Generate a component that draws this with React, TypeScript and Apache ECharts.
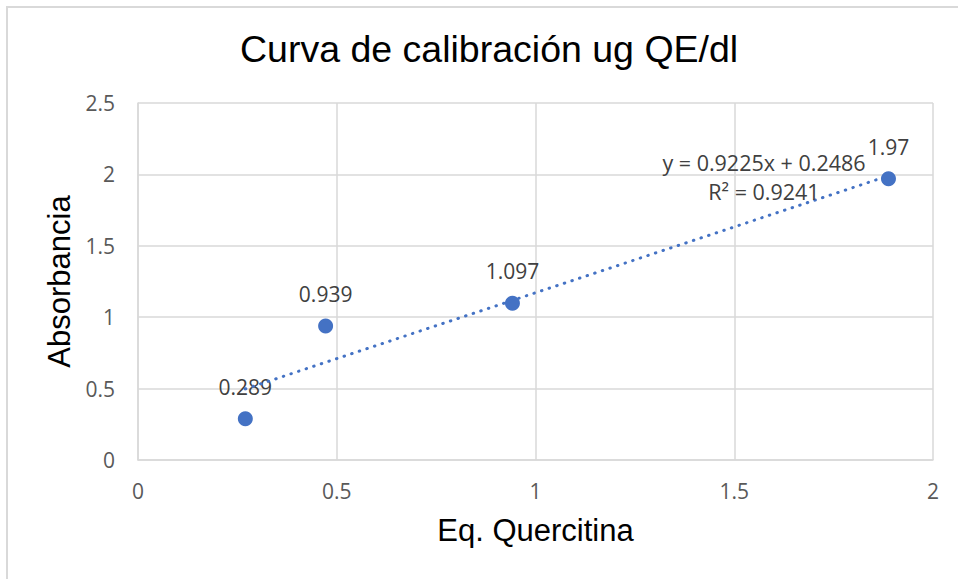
import React, { useEffect, useRef } from "react";
import * as echarts from "echarts";

const xValues = [0.27, 0.472, 0.942, 1.888];
const yValues = [0.289, 0.939, 1.097, 1.97];
const slope = 0.9225;
const intercept = 0.2486;
const rSquared = 0.9241;
const xTicks = { min: 0, max: 2, interval: 0.5 };
const yTicks = { min: 0, max: 2.5, interval: 0.5 };

const BLUE = "#4472C4";
const GRID = "#d9d9d9";

export default function App() {
  const ref = useRef<HTMLDivElement>(null);
  useEffect(() => {
    if (!ref.current) return;
    const chart = echarts.init(ref.current, null, { renderer: "svg" });
    const points = xValues.map((x, i) => [x, yValues[i]]);
    const xMin = Math.min(...xValues);
    const xMax = Math.max(...xValues);
    const trend = [
      [xMin, slope * xMin + intercept],
      [xMax, slope * xMax + intercept],
    ];
    chart.setOption({
      animation: false,
      backgroundColor: "#ffffff",
      title: {
        text: "Curva de calibración ug QE/dl",
        left: 240,
        top: 30,
        padding: 0,
        textStyle: {
          fontFamily: "Liberation Sans",
          fontSize: 37.5,
          fontWeight: "normal",
          color: "#000000",
        },
      },
      grid: { left: 138, top: 103, right: 25, bottom: 119 },
      xAxis: {
        type: "value",
        min: xTicks.min,
        max: xTicks.max,
        interval: xTicks.interval,
        name: "Eq. Quercitina",
        nameLocation: "middle",
        nameGap: 55,
        nameTextStyle: { fontFamily: "Liberation Sans", fontSize: 31, color: "#000000" },
        axisLine: { show: true, lineStyle: { color: GRID, width: 1.5 } },
        axisTick: { show: false },
        axisLabel: { margin: 20, fontFamily: "Open Sans", fontSize: 21, color: "#595959" },
        splitLine: { show: true, lineStyle: { color: GRID, width: 1.5 } },
      },
      yAxis: {
        type: "value",
        min: yTicks.min,
        max: yTicks.max,
        interval: yTicks.interval,
        name: "Absorbancia",
        nameLocation: "middle",
        nameGap: 60,
        nameTextStyle: { fontFamily: "Liberation Sans", fontSize: 31, color: "#000000" },
        axisLine: { show: true, lineStyle: { color: GRID, width: 1.5 } },
        axisTick: { show: false },
        axisLabel: { margin: 23, fontFamily: "Open Sans", fontSize: 21, color: "#595959" },
        splitLine: { show: true, lineStyle: { color: GRID, width: 1.5 } },
      },
      series: [
        {
          type: "scatter",
          data: points,
          symbol: "circle",
          symbolSize: 15,
          itemStyle: { color: BLUE, opacity: 1 },
          label: {
            show: true,
            position: "top",
            distance: 14,
            formatter: (p: any) => String(p.value[1]),
            fontFamily: "Open Sans",
            fontSize: 21,
            color: "#404040",
          },
          z: 2,
        },
        {
          type: "line",
          data: trend,
          showSymbol: false,
          symbol: "none",
          lineStyle: { color: BLUE, width: 3, type: [0.5, 7.5], cap: "round", opacity: 1 },
          z: 3,
          silent: true,
        },
      ],
      graphic: [
        {
          type: "rect",
          shape: { x: 7, y: 7, width: 960, height: 590 },
          style: { fill: "none", stroke: GRID, lineWidth: 2 },
          silent: true,
          z: -1,
        },
        {
          type: "text",
          x: 764,
          y: 162,
          style: {
            text: `y = ${slope}x + ${intercept}`,
            fontFamily: "Open Sans",
            fontSize: 21.5,
            fill: "#404040",
            align: "center",
            verticalAlign: "middle",
          },
          z: 10,
        },
        {
          type: "text",
          x: 764,
          y: 191,
          style: {
            text: `R² = ${rSquared}`,
            fontFamily: "Open Sans",
            fontSize: 21.5,
            fill: "#404040",
            align: "center",
            verticalAlign: "middle",
          },
          z: 10,
        },
      ],
    });
    return () => chart.dispose();
  }, []);
  return (
    <div
      ref={ref}
      style={{ position: "fixed", left: 0, top: 0, width: 958, height: 579 }}
    />
  );
}
